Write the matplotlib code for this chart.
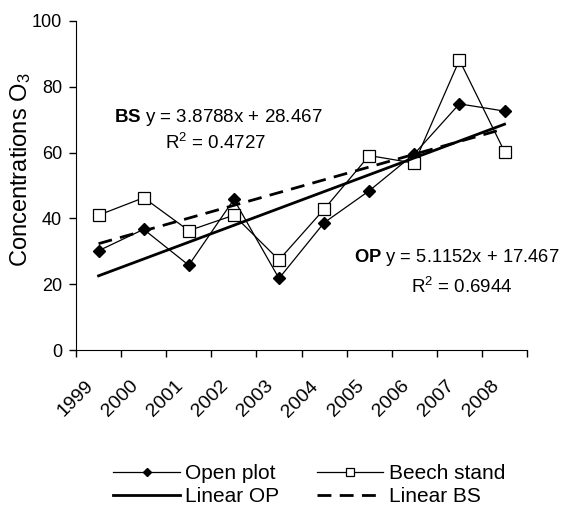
import matplotlib
matplotlib.use("Agg")
import matplotlib.pyplot as plt
import numpy as np
from matplotlib.ticker import FixedLocator, NullFormatter
from matplotlib.transforms import ScaledTranslation

plt.rcParams['font.family'] = ['Liberation Sans', 'DejaVu Sans']
plt.rcParams['mathtext.fontset'] = 'custom'
plt.rcParams['mathtext.rm'] = 'Liberation Sans'
plt.rcParams['mathtext.bf'] = 'Liberation Sans:bold'
plt.rcParams['mathtext.it'] = 'Liberation Sans:italic'

years = ['1999', '2000', '2001', '2002', '2003', '2004', '2005', '2006', '2007', '2008']
open_plot = [30.2, 36.7, 25.8, 45.8, 21.8, 38.7, 48.4, 59.6, 74.8, 72.6]
beech_stand = [41.0, 46.3, 36.3, 41.0, 27.4, 42.8, 59.1, 56.8, 88.1, 60.3]
op_slope, op_intercept, op_r2 = 5.1152, 17.467, 0.6944
bs_slope, bs_intercept, bs_r2 = 3.8788, 28.467, 0.4727

fig = plt.figure(figsize=(5.61, 5.09), dpi=100)
ax = fig.add_axes([0.1355, 0.312, 0.804, 0.647])

x = np.arange(len(years))
xn = x + 1
h_op, = ax.plot(x, open_plot, color='black', lw=0.9, marker='D', ms=6.5, mfc='black', mec='black', label='Open plot')
h_bs, = ax.plot(x, beech_stand, color='black', lw=0.9, marker='s', ms=8.5, mfc='white', mec='black', mew=0.9, label='Beech stand')
h_lop, = ax.plot(x, op_slope * xn + op_intercept, color='black', lw=2.0, ls='-', label='Linear OP')
h_lbs, = ax.plot(x, bs_slope * xn + bs_intercept, color='black', lw=2.0, ls=(0, (5, 3)), label='Linear BS')

ax.set_xlim(-0.5, len(years) - 0.5)
ax.set_ylim(0, 100)
ax.set_yticks([0, 20, 40, 60, 80, 100])
ax.xaxis.set_major_locator(FixedLocator(np.arange(-0.5, len(years), 1.0)))
ax.xaxis.set_major_formatter(NullFormatter())
ax.xaxis.set_minor_locator(FixedLocator(x))
ax.set_xticklabels(years, minor=True, rotation=45, ha='right', va='center', rotation_mode='anchor', fontsize=14)
ax.tick_params(axis='x', which='minor', length=0, pad=24)
ax.tick_params(axis='x', which='major', direction='out', length=5, width=1)
ax.tick_params(axis='y', direction='out', length=5, width=1, labelsize=13, pad=5)
off = ScaledTranslation(-0.08, 0, fig.dpi_scale_trans)
for lbl in ax.get_xticklabels(minor=True):
    lbl.set_transform(lbl.get_transform() + off)
ax.spines['top'].set_visible(False)
ax.spines['right'].set_visible(False)
ax.set_ylabel('Concentrations O$_3$', fontsize=17)
ax.yaxis.set_label_coords(-0.095, 0.547)

fs = 13.5
ax.text(0.315, 0.708, r'$\mathbf{BS}$ y = 3.8788x + 28.467', transform=ax.transAxes, ha='center', va='center', fontsize=fs)
ax.text(0.31, 0.629, 'R$^2$ = 0.4727', transform=ax.transAxes, ha='center', va='center', fontsize=fs)
ax.text(0.843, 0.28, r'$\mathbf{OP}$ y = 5.1152x + 17.467', transform=ax.transAxes, ha='center', va='center', fontsize=13.2)
ax.text(0.856, 0.191, 'R$^2$ = 0.6944', transform=ax.transAxes, ha='center', va='center', fontsize=fs)

fig.legend([h_op, h_lop, h_bs, h_lbs], ['Open plot', 'Linear OP', 'Beech stand', 'Linear BS'],
           loc='center', bbox_to_anchor=(0.551, 0.047), ncol=2, frameon=False, fontsize=15,
           handlelength=3.2, handletextpad=0.25, columnspacing=1.8, labelspacing=0.2,
           borderpad=0.0, borderaxespad=0.0, markerscale=0.7)

fig.savefig('out.png', dpi=100)
